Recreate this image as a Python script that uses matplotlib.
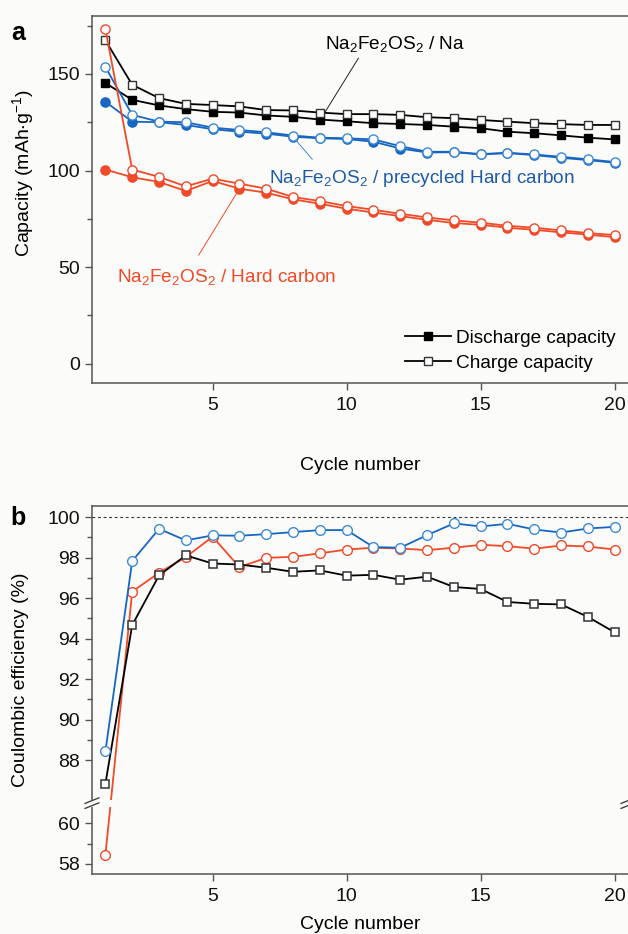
import numpy as np
import matplotlib
matplotlib.use('Agg')
import matplotlib.pyplot as plt
from matplotlib.patches import Rectangle
from matplotlib.lines import Line2D

plt.rcParams['font.family'] = ['Liberation Sans', 'DejaVu Sans']
plt.rcParams['mathtext.default'] = 'regular'

cycles = np.arange(1, 21)

# capacity (mAh/g)
na_dis = [145.3, 136.6, 133.7, 131.8, 130.4, 130.0, 128.5, 127.8, 126.4, 125.5,
          124.5, 124.1, 123.6, 122.7, 121.9, 120.1, 119.3, 118.2, 117.0, 116.1]
na_chg = [167.4, 144.4, 137.5, 134.5, 133.9, 133.2, 131.3, 131.1, 130.0, 129.2,
          129.2, 128.8, 127.6, 127.1, 126.2, 125.3, 124.5, 124.0, 123.6, 123.6]
pre_dis = [135.6, 125.3, 125.0, 123.6, 121.4, 120.1, 119.1, 117.5, 116.7, 116.3,
           114.9, 111.4, 109.3, 109.5, 108.3, 109.0, 108.0, 106.6, 105.4, 104.0]
pre_chg = [153.6, 128.8, 125.3, 125.0, 122.2, 121.0, 119.8, 118.1, 117.0, 116.7,
           116.1, 112.6, 109.7, 109.7, 108.5, 109.2, 108.3, 107.1, 105.8, 104.4]
hc_dis = [100.5, 96.5, 94.1, 89.4, 94.6, 90.6, 88.5, 85.1, 82.8, 80.2,
          78.3, 76.4, 74.5, 72.8, 71.9, 70.4, 69.3, 68.0, 66.8, 65.5]
hc_chg = [173.1, 100.5, 96.7, 91.8, 95.8, 93.2, 90.6, 86.3, 84.2, 81.6,
          79.7, 77.6, 75.7, 74.2, 73.0, 71.4, 70.4, 69.0, 67.6, 66.6]

# coulombic efficiency (%)
ce_na = [86.84, 94.67, 97.12, 98.11, 97.71, 97.66, 97.50, 97.30, 97.37, 97.11,
         97.15, 96.91, 97.06, 96.55, 96.45, 95.81, 95.72, 95.69, 95.07, 94.31]
ce_pre = [88.43, 97.83, 99.42, 98.85, 99.10, 99.08, 99.16, 99.26, 99.36, 99.36,
          98.52, 98.49, 99.11, 99.69, 99.54, 99.67, 99.39, 99.24, 99.44, 99.52]
ce_hc = [58.44, 96.32, 97.25, 98.03, 99.03, 97.53, 97.99, 98.04, 98.21, 98.40,
         98.49, 98.45, 98.37, 98.49, 98.63, 98.57, 98.44, 98.60, 98.55, 98.40]

BG = '#fbfbf9'
RED = '#f04a28'
BLUE = '#1766c2'
BLUE_LT = '#3d8ad6'
BLUE_TXT = '#1f5aa8'
SPINE = '#555555'
FS = 13.7

# broken y axis for panel b
B_LO, B_HI, S = 61.0, 85.9, 0.001
G = B_HI - B_LO


def fwd(y):
    y = np.asarray(y, float)
    return np.where(y <= B_LO, y,
                    np.where(y >= B_HI, y - G * (1 - S), B_LO + (y - B_LO) * S))


def inv(d):
    d = np.asarray(d, float)
    d_hi = B_LO + G * S
    return np.where(d <= B_LO, d,
                    np.where(d >= d_hi, d + G * (1 - S), B_LO + (d - B_LO) / S))


def style_axes(ax):
    ax.set_facecolor(BG)
    for sp in ax.spines.values():
        sp.set_color(SPINE)
        sp.set_linewidth(1.1)
    ax.tick_params(which='both', direction='out', color=SPINE, labelsize=14,
                   labelcolor='#111111')
    ax.tick_params(which='major', length=5, width=1)
    ax.tick_params(which='minor', length=3.5, width=1)
    ax.tick_params(axis='x', pad=5)
    ax.set_xlim(0.5, 20.57)
    ax.set_xticks([5, 10, 15, 20])


fig = plt.figure(figsize=(6.28, 9.34), dpi=100, facecolor=BG)
W, H = 628, 934
ax1 = fig.add_axes([92 / W, 1 - 383 / H, 538 / W, 367 / H])
ax2 = fig.add_axes([92 / W, 1 - 874 / H, 538 / W, 368 / H])

# ---- panel a ----
style_axes(ax1)
ms_sq, ms_c, lw = 5.6, 6.6, 1.3
ax1.plot(cycles, na_dis, '-s', color='k', mfc='k', mec='k', ms=ms_sq, lw=lw)
ax1.plot(cycles, na_chg, '-s', color='k', mfc='white', mec='#333333', mew=1, ms=ms_sq, lw=lw)
ax1.plot(cycles, pre_dis, '-o', color=BLUE, mfc=BLUE, mec=BLUE, ms=ms_c, lw=lw)
ax1.plot(cycles, pre_chg, '-o', color=BLUE, mfc='white', mec=BLUE_LT, mew=1, ms=ms_c, lw=lw)
ax1.plot(cycles, hc_dis, '-o', color=RED, mfc=RED, mec=RED, ms=ms_c, lw=lw)
ax1.plot(cycles, hc_chg, '-o', color=RED, mfc='white', mec=RED, mew=1, ms=ms_c, lw=lw)

ax1.set_ylim(-10, 180)
ax1.set_yticks([0, 50, 100, 150])
ax1.set_yticks([25, 75, 125, 175], minor=True)

ax1.text(9.2, 165.5, r'$Na_2Fe_2OS_2$ / Na', fontsize=FS, color='k', va='center')
ax1.annotate('', xy=(9.2, 130.4), xytext=(10.44, 158.2),
             arrowprops=dict(arrowstyle='-', lw=0.7, color='#222222', shrinkA=0, shrinkB=0))
ax1.text(7.1, 96.1, r'$Na_2Fe_2OS_2$ / precycled Hard carbon', fontsize=FS,
         color=BLUE_TXT, va='center')
ax1.annotate('', xy=(8.1, 115.8), xytext=(8.72, 105.8),
             arrowprops=dict(arrowstyle='-', lw=0.7, color=BLUE_LT, shrinkA=0, shrinkB=0))
ax1.text(1.43, 44.8, r'$Na_2Fe_2OS_2$ / Hard carbon', fontsize=FS, color=RED, va='center')
ax1.annotate('', xy=(5.97, 89.9), xytext=(4.48, 56.2),
             arrowprops=dict(arrowstyle='-', lw=0.7, color=RED, shrinkA=0, shrinkB=0))

handles = [Line2D([], [], color='k', marker='s', mfc='k', mec='k', ms=ms_sq, lw=lw),
           Line2D([], [], color='k', marker='s', mfc='white', mec='#333333', ms=ms_sq, lw=lw)]
ax1.legend(handles, ['Discharge capacity', 'Charge capacity'], loc='lower right',
           bbox_to_anchor=(0.974, 0.03), frameon=False, fontsize=FS,
           handlelength=2.4, handletextpad=0.3, labelspacing=0.4,
           borderaxespad=0, borderpad=0)

# ---- panel b ----
style_axes(ax2)
ax2.set_yscale('function', functions=(fwd, inv))
ax2.axhline(100, color='#333333', lw=0.8, ls=(0, (2.5, 2.5)))
ms2 = 7.0
ax2.plot(cycles, ce_hc, '-o', color=RED, mfc='white', mec=RED, mew=1, ms=ms2, lw=lw)
ax2.plot(cycles, ce_na, '-s', color='k', mfc='white', mec='#333333', mew=1.1, ms=6.2, lw=lw)
ax2.plot(cycles, ce_pre, '-o', color=BLUE, mfc='white', mec=BLUE_LT, mew=1, ms=ms2, lw=lw)
ax2.set_ylim(57.5, 100.55)
ax2.set_yticks([58, 60, 88, 90, 92, 94, 96, 98, 100])
ax2.set_yticks([59, 89, 91, 93, 95, 97, 99], minor=True)
ax2.yaxis.set_minor_formatter(plt.NullFormatter())

# break marks on the axis
d0, d1 = fwd(57.5), fwd(100.55)
fb = float((fwd(B_LO) - d0) / (d1 - d0))
px, py = 1 / 538, 1 / 368
ax2.add_patch(Rectangle((-0.03, fb - 3.5 * py), 1.1, 7 * py, transform=ax2.transAxes,
                        facecolor=BG, edgecolor='none', clip_on=False, zorder=5))
for xs in (0, 1 - 2 * px):
    for off in (-2.5, 2.5):
        ax2.plot([xs - 7 * px, xs + 7 * px], [fb + (off - 2.8) * py, fb + (off + 2.8) * py],
                 transform=ax2.transAxes, color='#333333', lw=0.9, clip_on=False, zorder=6)

# labels
fig.text(18 / W, 1 - 33 / H, 'a', fontsize=18, fontweight='bold', ha='center', va='center')
fig.text(18 / W, 1 - 518 / H, 'b', fontsize=18, fontweight='bold', ha='center', va='center')
fig.text(23 / W, 1 - 173 / H, r'Capacity (mAh$\cdot$g$^{-1}$)', fontsize=14,
         rotation=90, ha='center', va='center')
fig.text(21 / W, 1 - 680 / H, 'Coulombic efficiency (%)', fontsize=14,
         rotation=90, ha='center', va='center')
fig.text(360 / W, 1 - 465 / H, 'Cycle number', fontsize=14, ha='center', va='center')
fig.text(360 / W, 1 - 933 / H, 'Cycle number', fontsize=14, ha='center', va='bottom')

fig.savefig('out.png', dpi=100, facecolor=BG)
